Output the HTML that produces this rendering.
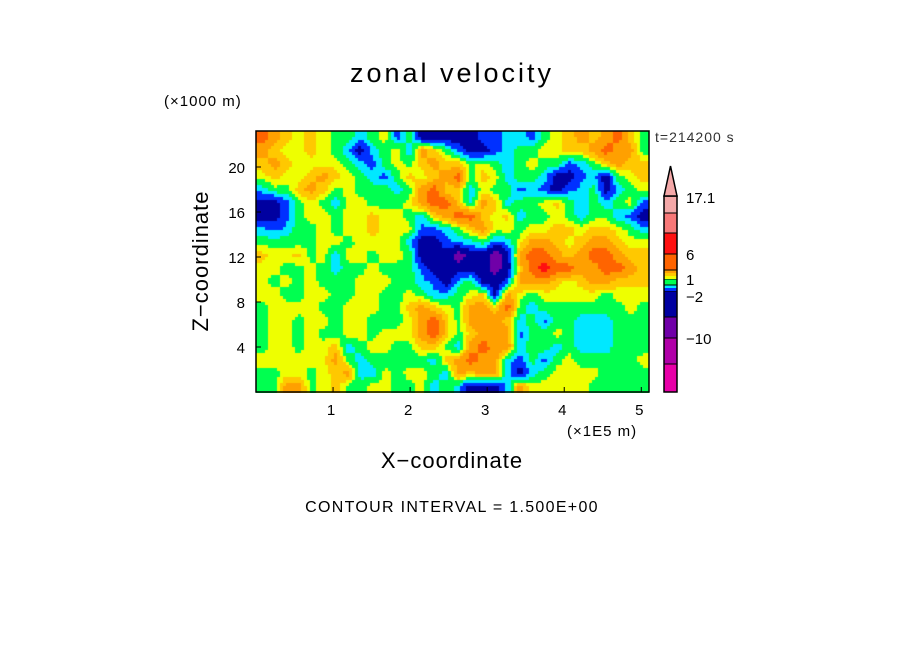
<!DOCTYPE html>
<html><head><meta charset="utf-8"><style>
body{margin:0;background:#fff;width:904px;height:654px;overflow:hidden;position:relative;font-family:"Liberation Sans",sans-serif;color:#000}
.t{position:absolute;white-space:nowrap}
</style></head><body>
<div class="t" style="left:0;width:904px;text-align:center;top:58px;font-size:27px;letter-spacing:3px">zonal velocity</div>
<div class="t" style="left:164px;top:93px;font-size:15px;letter-spacing:1px">(×1000 m)</div>
<div class="t" style="left:655px;top:129px;font-size:14px;color:#333;letter-spacing:1px">t=214200 s</div>
<div class="t" style="left:567px;top:423px;font-size:15px;letter-spacing:1px">(×1E5 m)</div>
<div class="t" style="left:0;width:904px;text-align:center;top:448px;font-size:22px;letter-spacing:1px">X−coordinate</div>
<div class="t" style="left:201px;top:261px;font-size:22px;letter-spacing:1px;transform:translate(-50%,-50%) rotate(-90deg)">Z−coordinate</div>
<div class="t" style="left:0;width:904px;text-align:center;top:499px;font-size:16px;letter-spacing:1.3px">CONTOUR INTERVAL = 1.500E+00</div>
<canvas id="cv" width="393" height="262" style="position:absolute;left:256px;top:131px"></canvas>
<svg id="ov" width="904" height="654" style="position:absolute;left:0;top:0"></svg>
<script>
const codes=['P','N','B','C','G','Y','D','O','R','E'];
const codeValues=[-9,-5,-3,-2,-0.5,0.5,1.5,3,5,7];
const rows=[
"RODYDYGGCGYBGNNNNNBBCCBGYDODORDG",
"ODYYDYGCNCGYCODGBNNBCGGYYDDOROOG",
"DODYYYYGCBGYGDODDGYGCGYGGBCGDODD",
"YDYYDODYGCBGDYDORGDYCGGCNNBCNGYD",
"CGGDODGYGGGCGORDDCYGGBCBNBCGNCGY",
"NNBGYGCYYGGGYORRDCODCGGYDGCGCGYB",
"NNBGYYGYYDYYGCDORRDYDCGGYGCGGCBN",
"CBCGGYGYYDYYYBBCGDOYYGYYDDYDDYGC",
"GGGGGYYGYYYYCNNBCCGBCYOODYDOODYY",
"DYYDGYCYYGYYGNNNPNNPNORRODORRODD",
"YYGGYGCGGYGGGBNNNNNPNDRERROORROD",
"YGYGYGGGYYYGGCBNCGNNBOOODYDOODDD",
"YYGGYYGGYYGGYGCCGYDNOYGYYYYYGYYY",
"GYYYYGGYYYGGDODYGOODRGCGGGGGGGYG",
"GYYGYYGYYGGGYORDGOOODCGBGGCCCGGG",
"GYYGYGGYYGYYYORDGDOOOBGGYGCCCGGG",
"GYYGYYDCGYYGGDDGCOROOCGGCGCCCGGG",
"YYYYYYOGCGGGGGCDOROOCBGBGYGGGGGY",
"GGYYGYDOCCYGYYGCODOOCNCGYYYYGGGG",
"GGOOGYDGGYYGGYCGCNNNCOYYYYYGGGGG"];
const levels=[-12,-10,-7,-4,-2.5,-1.25,0,1,2.25,4,6,10,17.1];
const levelColors=["#e800a8","#b000a8","#7000a8","#0000a0","#0030ff","#00e8ff","#00ff50","#eeff00","#ffc800","#ffa000","#ff6400","#ff1010","#f87878","#f4a8a8"];
const xTicks=[1,2,3,4,5];
const yTicks=[4,8,12,16,20];
const cbLabels=["17.1","6","1","−2","−10"];
const cbLabelY=[197,254,279,296,338];

const X0=256,X1=649,Y0=131,Y1=392,XMAX=5.1,ZMAX=23.2;
const xs=v=>X0+(X1-X0)*v/XMAX, ys=v=>Y1-(Y1-Y0)*v/ZMAX;
const grid=rows.map(r=>r.split('').map(c=>codeValues[codes.indexOf(c)]));
const NR=grid.length,NC=grid[0].length;
function val(fx,fy){
  let gx=Math.min(Math.max(fx*NC-0.5,0),NC-1.001),gy=Math.min(Math.max(fy*NR-0.5,0),NR-1.001);
  let i=Math.floor(gx),j=Math.floor(gy),a=gx-i,b=gy-j;
  return grid[j][i]*(1-a)*(1-b)+grid[j][i+1]*a*(1-b)+grid[j+1][i]*(1-a)*b+grid[j+1][i+1]*a*b;
}
function colorOf(v){let k=0;while(k<levels.length&&v>levels[k])k++;return levelColors[k];}
const cv=document.getElementById('cv'),ctx=cv.getContext('2d');
const S=3;
for(let y=0;y<cv.height;y+=S)for(let x=0;x<cv.width;x+=S){
  ctx.fillStyle=colorOf(val((x+S/2)/cv.width,(y+S/2)/cv.height));
  ctx.fillRect(x,y,S,S);
}
const NS='http://www.w3.org/2000/svg',ov=document.getElementById('ov');
function mk(tag,attrs,txt){const e=document.createElementNS(NS,tag);for(const k in attrs)e.setAttribute(k,attrs[k]);if(txt!==undefined)e.textContent=txt;ov.appendChild(e);return e;}
let fr=mk('rect',{x:X0,y:Y0,width:X1-X0,height:Y1-Y0,fill:'none',stroke:'#000','stroke-width':1.5});


xTicks.forEach(t=>{
  const l=mk('line',{x1:xs(t),x2:xs(t),y1:Y1,y2:Y1-5,stroke:'#000'});
  
  
  const tx=mk('text',{x:xs(t)-2,y:Y1+23,'text-anchor':'middle','font-size':15,'font-family':'Liberation Sans'},String(t));
  
  
});
yTicks.forEach(t=>{
  const l=mk('line',{x1:X0,x2:X0+5,y1:ys(t),y2:ys(t),stroke:'#000'});
  
  
  const tx=mk('text',{x:X0-11,y:ys(t)+6,'text-anchor':'end','font-size':15,'font-family':'Liberation Sans'},String(t));
  
  
});
// colorbar
const CBX=664,CBW=13,CBT=196,CBB=392;
const segH=[28,26,21,26,3,3,6,3,3,3,16,21,20,17]; // bottom->top heights
const tot=segH.reduce((a,b)=>a+b,0);
let yb=CBB;
for(let k=0;k<levelColors.length;k++){
  const h=(CBB-CBT)*segH[k]/tot;
  const r=mk('rect',{x:CBX,y:yb-h,width:CBW,height:h,fill:levelColors[k],stroke:'#000','stroke-width':(h>5?1:0)});
  
  
  yb-=h;
}
let ob=mk('rect',{x:CBX,y:CBT,width:CBW,height:CBB-CBT,fill:'none',stroke:'#000','stroke-width':1.5});


let ar=mk('polygon',{points:`${CBX},${CBT} ${CBX+CBW},${CBT} ${CBX+CBW/2},${CBT-30}`,fill:levelColors[levelColors.length-1],stroke:'#000','stroke-width':1.5});


cbLabels.forEach((s,i)=>{
  const tx=mk('text',{x:686,y:cbLabelY[i]+6,'font-size':15,'font-family':'Liberation Sans'},s);
  
  
});
</script>
</body></html>
